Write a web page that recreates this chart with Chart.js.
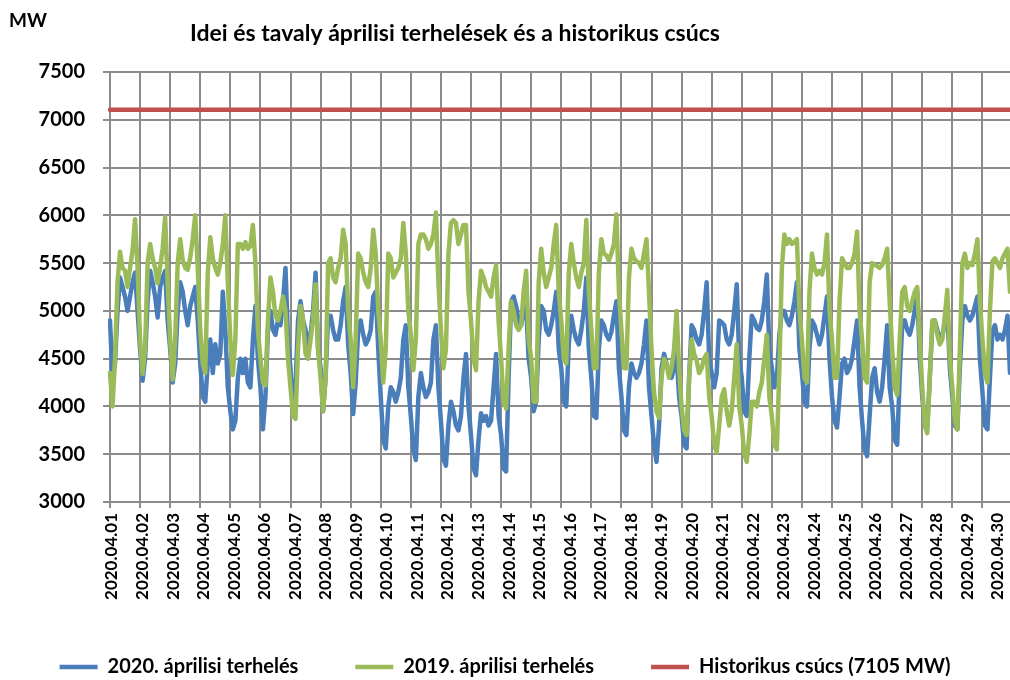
<!DOCTYPE html>
<html lang="hu">
<head>
<meta charset="utf-8">
<title>Áprilisi terhelések</title>
<script src="https://cdn.jsdelivr.net/npm/chart.js@4.4.1/dist/chart.umd.min.js"></script>
<style>
  html, body { margin: 0; padding: 0; background: #fff; }
  #wrap { position: relative; width: 1010px; height: 680px; }
</style>
</head>
<body>
<div id="wrap"><canvas id="myChart"></canvas></div>
<script>
const chartTitle = 'Idei és tavaly áprilisi terhelések és a historikus csúcs';
const unitLabel = 'MW';

const days = [
  '2020.04.01', '2020.04.02', '2020.04.03', '2020.04.04', '2020.04.05', '2020.04.06',
  '2020.04.07', '2020.04.08', '2020.04.09', '2020.04.10', '2020.04.11', '2020.04.12',
  '2020.04.13', '2020.04.14', '2020.04.15', '2020.04.16', '2020.04.17', '2020.04.18',
  '2020.04.19', '2020.04.20', '2020.04.21', '2020.04.22', '2020.04.23', '2020.04.24',
  '2020.04.25', '2020.04.26', '2020.04.27', '2020.04.28', '2020.04.29', '2020.04.30'
];
const hours = ['00:00', '02:00', '04:00', '06:00', '08:00', '10:00', '12:00', '14:00', '16:00', '18:00', '20:00', '22:00'];

// 2020 april load, MW, every 2 hours (one line = one day)
const load2020 = [
  4900, 4300, 4450, 5000, 5350, 5250, 5150, 5000, 5150, 5300, 5400, 5000,
  4600, 4270, 4500, 5100, 5420, 5300, 5150, 4930, 5250, 5350, 5420, 4900,
  4600, 4250, 4450, 5000, 5300, 5200, 5000, 4850, 5050, 5150, 5250, 4900,
  4450, 4100, 4050, 4450, 4700, 4350, 4650, 4450, 4550, 5200, 4800, 4200,
  3950, 3760, 3850, 4300, 4500, 4350, 4500, 4250, 4200, 4700, 5050, 4500,
  4200, 3760, 4100, 4800, 5000, 4800, 4750, 4900, 4850, 5100, 5450, 4700,
  4400, 3950, 4200, 4900, 5100, 4900, 4800, 4650, 4750, 5000, 5400, 4600,
  4400, 3950, 4300, 4950, 4950, 4800, 4700, 4700, 4850, 5100, 5250, 4650,
  4350, 3920, 4250, 4800, 4900, 4750, 4650, 4700, 4800, 5150, 5200, 4600,
  4100, 3650, 3560, 4000, 4200, 4150, 4050, 4150, 4300, 4700, 4850, 4200,
  3900, 3550, 3440, 4100, 4350, 4200, 4100, 4150, 4250, 4700, 4850, 4200,
  3850, 3450, 3380, 3800, 4050, 3950, 3800, 3750, 3900, 4300, 4550, 4000,
  3700, 3350, 3280, 3650, 3930, 3850, 3900, 3800, 3850, 4200, 4550, 3900,
  3700, 3350, 3320, 4300, 5100, 5150, 5050, 4900, 4850, 5000, 5050, 4500,
  4300, 3950, 4050, 4700, 5050, 5000, 4800, 4750, 4850, 5000, 5200, 4600,
  4400, 4050, 4000, 4650, 4950, 4800, 4700, 4650, 4800, 5000, 5350, 4600,
  4300, 3900, 3880, 4600, 4900, 4850, 4750, 4700, 4780, 4950, 5100, 4400,
  4100, 3750, 3700, 4200, 4450, 4350, 4300, 4350, 4450, 4650, 4900, 4200,
  3900, 3600, 3420, 3800, 4400, 4550, 4450, 4350, 4300, 4400, 4550, 4100,
  3900, 3600, 3560, 4300, 4850, 4800, 4700, 4650, 4750, 5000, 5300, 4500,
  4350, 4200, 4350, 4900, 4880, 4850, 4700, 4650, 4750, 5000, 5280, 4500,
  4300, 3950, 3900, 4500, 4950, 4900, 4820, 4800, 4900, 5100, 5380, 4600,
  4400, 4200, 4300, 4750, 5000, 5000, 4900, 4850, 4950, 5100, 5300, 4600,
  4350, 4050, 4000, 4600, 4900, 4850, 4750, 4650, 4750, 4950, 5150, 4500,
  4100, 3850, 3780, 4100, 4450, 4500, 4350, 4400, 4500, 4700, 4900, 4200,
  3850, 3550, 3480, 3900, 4300, 4400, 4150, 4050, 4200, 4500, 4850, 4200,
  4000, 3650, 3600, 4300, 4850, 4900, 4800, 4750, 4850, 5000, 5200, 4500,
  4100, 3800, 3780, 4300, 4850, 4900, 4800, 4700, 4750, 4850, 5000, 4400,
  4100, 3800, 3760, 4400, 4900, 5050, 4950, 4900, 4950, 5050, 5150, 4500,
  4150, 3800, 3760, 4300, 4800, 4850, 4700, 4750, 4700, 4800, 4950, 4350
];

// 2019 april load, MW, every 2 hours
const load2019 = [
  4350, 4000, 4500, 5300, 5620, 5450, 5420, 5250, 5450, 5630, 5960, 5450,
  4700, 4340, 4600, 5500, 5700, 5550, 5450, 5290, 5460, 5650, 5980, 5300,
  4700, 4280, 4700, 5500, 5750, 5530, 5450, 5430, 5560, 5750, 6000, 5450,
  4800, 4450, 4350, 5400, 5770, 5550, 5450, 5380, 5500, 5700, 6000, 5300,
  4700, 4330, 4700, 5700, 5700, 5650, 5720, 5650, 5680, 5900, 5500, 4800,
  4500, 4250, 4220, 4900, 5350, 5200, 4950, 4900, 5000, 5150, 5000, 4500,
  4200, 3900, 3870, 4600, 5050, 4900, 4550, 4500, 4700, 4900, 5280, 4600,
  4300, 3950, 4300, 5500, 5550, 5350, 5300, 5450, 5550, 5850, 5700, 5000,
  4700, 4200, 4700, 5600, 5550, 5400, 5300, 5250, 5450, 5850, 5600, 5000,
  4700, 4250, 4600, 5600, 5550, 5350, 5400, 5450, 5550, 5920, 5600, 5000,
  4750, 4380, 4700, 5700, 5800, 5800, 5750, 5650, 5700, 5800, 6030, 5300,
  4800, 4400, 4600, 5600, 5920, 5950, 5920, 5700, 5800, 5900, 5900, 5200,
  4900, 4500, 4380, 5100, 5420, 5350, 5250, 5200, 5150, 5350, 5480, 4900,
  4500, 4050, 3980, 4600, 5100, 5000, 4850, 4800, 4850, 5200, 5420, 4700,
  4500, 4050, 4050, 5300, 5650, 5400, 5250, 5350, 5450, 5700, 5900, 5200,
  4900, 4500, 4450, 5400, 5700, 5500, 5350, 5250, 5400, 5500, 5950, 5200,
  4800, 4400, 4400, 5400, 5750, 5600, 5580, 5530, 5600, 5700, 6010, 5200,
  4800, 4400, 4400, 5350, 5650, 5550, 5520, 5500, 5450, 5600, 5750, 5200,
  4600, 4150, 3950, 3880, 4300, 4500, 4450, 4300, 4400, 4600, 5000, 4400,
  4000, 3750, 3700, 4300, 4700, 4550, 4480, 4350, 4400, 4500, 4550, 4100,
  3900, 3600, 3520, 3800, 4100, 4180, 3950, 3800, 3950, 4300, 4650, 4000,
  3800, 3500, 3420, 3700, 4050, 4050, 4000, 4150, 4250, 4500, 4750, 4100,
  3900, 3600, 3550, 4400, 5450, 5800, 5700, 5750, 5700, 5720, 5750, 5000,
  4700, 4300, 4250, 5200, 5600, 5450, 5380, 5420, 5380, 5500, 5800, 5000,
  4700, 4300, 4300, 5100, 5550, 5500, 5450, 5450, 5500, 5600, 5830, 5000,
  4700, 4300, 4250, 5300, 5500, 5480, 5470, 5450, 5480, 5550, 5650, 5100,
  4600, 4200, 4120, 4700, 5200, 5250, 5050, 5000, 5100, 5200, 5250, 4700,
  4200, 3800, 3720, 4300, 4900, 4900, 4750, 4650, 4700, 4950, 5220, 4500,
  4200, 3850, 3760, 4600, 5500, 5600, 5450, 5500, 5480, 5600, 5750, 5100,
  4700, 4350, 4250, 5000, 5520, 5550, 5500, 5450, 5550, 5600, 5650, 5200
];

const historicPeak = 7105;

const gridColor = '#8c8c8c';
const fontFamily = "Lato, 'Open Sans', sans-serif";
Chart.defaults.font.family = fontFamily;
Chart.defaults.color = '#000';

const labels = days.flatMap(d => hours.map(h => d + ' ' + h));

// title and unit label drawn in the free space above the plot
const headerTexts = {
  id: 'headerTexts',
  afterDraw(chart) {
    const c = chart.ctx;
    c.save();
    c.fillStyle = '#000';
    c.textBaseline = 'middle';
    c.font = 'bold 19px ' + fontFamily;
    c.fillText(unitLabel, 9, 21);
    c.font = 'bold 23px ' + fontFamily;
    c.fillText(chartTitle, 190, 34);
    c.restore();
  }
};

new Chart(document.getElementById('myChart'), {
  type: 'line',
  data: {
    labels: labels,
    datasets: [
      {
        label: '2020. áprilisi terhelés',
        data: load2020,
        borderColor: '#4a7ebb',
        backgroundColor: '#4a7ebb',
        borderWidth: 4.5,
        order: 3
      },
      {
        label: '2019. áprilisi terhelés',
        data: load2019,
        borderColor: '#9bbb59',
        backgroundColor: '#9bbb59',
        borderWidth: 4.5,
        order: 2
      },
      {
        label: 'Historikus csúcs (' + historicPeak + ' MW)',
        data: labels.map(() => historicPeak),
        borderColor: '#c0504d',
        backgroundColor: '#c0504d',
        borderWidth: 4.5,
        order: 1
      }
    ]
  },
  options: {
    responsive: true,
    maintainAspectRatio: false,
    animation: false,
    events: [],
    layout: { padding: { top: 72, right: 0, bottom: -7, left: 0 } },
    elements: {
      point: { radius: 0 },
      line: { tension: 0, borderJoinStyle: 'round', borderCapStyle: 'round' }
    },
    plugins: {
      title: { display: false },
      tooltip: { enabled: false },
      legend: {
        position: 'bottom',
        labels: {
          usePointStyle: true,
          pointStyle: 'line',
          pointStyleWidth: 38,
          padding: 57,
          color: '#000',
          font: { size: 20, weight: 'bold' },
          sort: (a, b) => a.datasetIndex - b.datasetIndex
        }
      }
    },
    scales: {
      x: {
        type: 'category',
        ticks: { display: false, autoSkip: false },
        grid: {
          color: c => (c.index % hours.length === 0 ? gridColor : 'rgba(0,0,0,0)'),
          lineWidth: 2,
          tickLength: 6
        },
        border: { color: gridColor, width: 2 },
        afterFit: s => { s.height = 8; }
      },
      xl: {
        type: 'linear',
        position: 'bottom',
        min: -0.065,
        max: 29.40,
        afterBuildTicks: s => { s.ticks = days.map((d, i) => ({ value: i })); },
        ticks: {
          callback: (v, i) => days[i],
          minRotation: 90,
          maxRotation: 90,
          autoSkip: false,
          padding: 3,
          color: '#000',
          font: { size: 17, weight: 'bold' }
        },
        grid: { display: false, drawTicks: false },
        border: { display: false },
        afterFit: s => { s.height = 90; s.paddingLeft = 0; s.paddingRight = 0; }
      },
      y: {
        min: 3000,
        max: 7500,
        ticks: {
          stepSize: 500,
          padding: 18,
          color: '#000',
          font: { size: 20, weight: 'bold' },
          callback: v => String(v)
        },
        grid: { color: gridColor, lineWidth: 2, tickLength: 7 },
        border: { color: gridColor, width: 2 },
        afterFit: s => { s.width = 110; }
      }
    }
  },
  plugins: [headerTexts]
});
</script>
</body>
</html>
